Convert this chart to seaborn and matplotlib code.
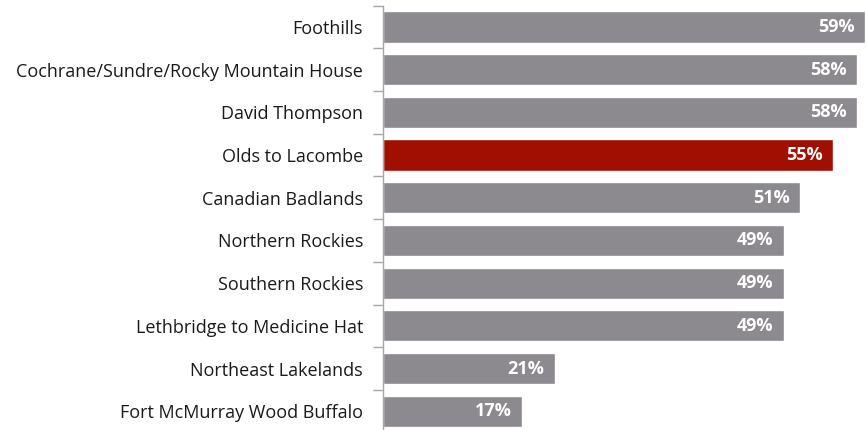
import matplotlib
matplotlib.use("Agg")
import matplotlib.pyplot as plt
import seaborn as sns
import pandas as pd

regions = [
    "Foothills",
    "Cochrane/Sundre/Rocky Mountain House",
    "David Thompson",
    "Olds to Lacombe",
    "Canadian Badlands",
    "Northern Rockies",
    "Southern Rockies",
    "Lethbridge to Medicine Hat",
    "Northeast Lakelands",
    "Fort McMurray Wood Buffalo",
]
shares = [59, 58, 58, 55, 51, 49, 49, 49, 21, 17]
highlight = "Olds to Lacombe"

GREY = "#8C8A8E"
RED = "#A00F00"

sns.set_theme(style="white")
plt.rcParams["font.family"] = ["Open Sans", "DejaVu Sans"]

df = pd.DataFrame({"region": regions, "share": shares})
palette = {r: (RED if r == highlight else GREY) for r in regions}

fig = plt.figure(figsize=(8.67, 4.30), dpi=100)
ax = fig.add_axes([383 / 867, -2.6 / 430, 484 / 867, 427 / 430])

sns.barplot(data=df, x="share", y="region", hue="region", palette=palette,
            order=regions, width=0.73, legend=False, ax=ax, saturation=1)

ax.set_xlim(0, 59.2)
ax.set_ylim(len(regions) - 0.5, -0.5)
ax.set_xlabel("")
ax.set_ylabel("")
ax.set_xticks([])

for s in ["top", "right", "bottom"]:
    ax.spines[s].set_visible(False)
ax.spines["left"].set_color("#A6A6A6")
ax.spines["left"].set_linewidth(1.0)

# tick marks sit between categories
ax.set_yticks([i - 0.5 for i in range(len(regions) + 1)], minor=True)
ax.tick_params(axis="y", which="minor", length=7, width=1.0, color="#A6A6A6", left=True)
ax.tick_params(axis="y", which="major", length=0, pad=14.4, labelsize=13.0, labelcolor="#1A1A1A")

for i, v in enumerate(shares):
    ax.text(v - 1.25, i, f"{v}%", ha="right", va="center", color="white",
            fontsize=13, fontweight="bold")

fig.savefig("out.png", dpi=100)
